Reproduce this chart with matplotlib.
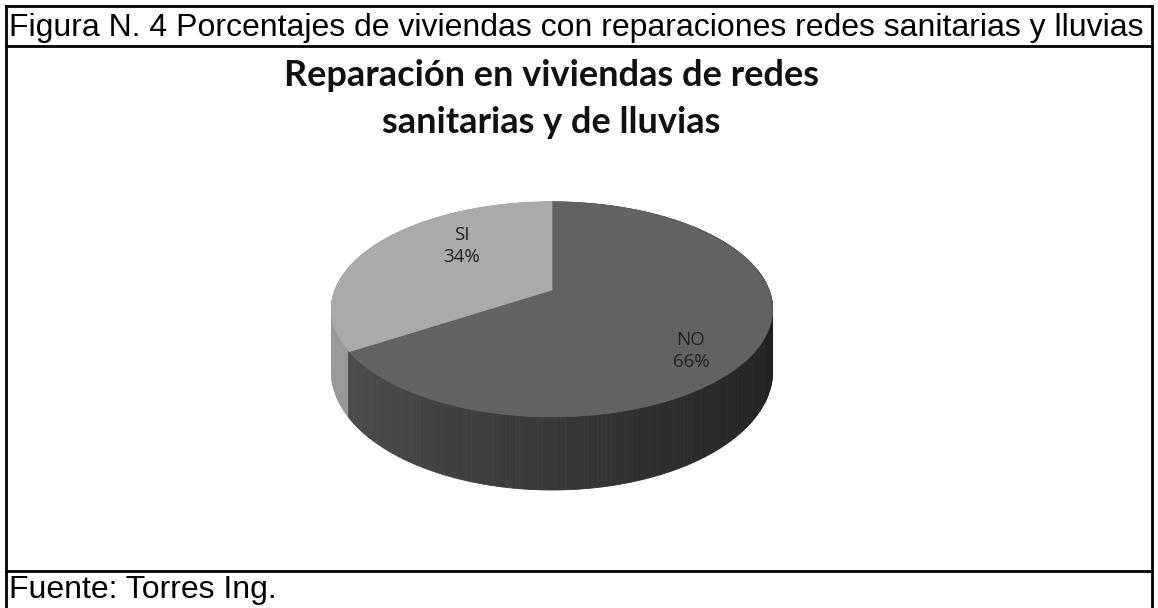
import numpy as np
import matplotlib
matplotlib.use("Agg")
import matplotlib.pyplot as plt

# Data
categories = ["NO", "SI"]
percents = [66, 34]
caption = "Figura N. 4 Porcentajes de viviendas con reparaciones redes sanitarias y lluvias"
title_lines = ["Reparación en viviendas de redes", "sanitarias y de lluvias"]
source = "Fuente: Torres Ing."

top_colors = {"NO": "#626262", "SI": "#aaaaaa"}
label_pos = {"NO": (691, 351), "SI": (462, 246)}

W, H = 1158, 608
fig = plt.figure(figsize=(W / 100, H / 100), dpi=100)
ax = fig.add_axes([0, 0, 1, 1])
ax.set_xlim(0, W)
ax.set_ylim(H, 0)
ax.axis("off")

# table frame
lw = 2.0
ax.plot([6, 6], [6, H], color="black", lw=lw)
ax.plot([1152, 1152], [6, H], color="black", lw=lw)
ax.plot([6, 1152], [6, 6], color="black", lw=lw)
ax.plot([6, 1152], [46, 46], color="black", lw=lw)
ax.plot([6, 1152], [571, 571], color="black", lw=lw)

ax.text(9, 36, caption, fontsize=23, family="Liberation Sans", va="baseline", ha="left")
ax.text(9, 598, source, fontsize=23, family="Liberation Sans", va="baseline", ha="left")
for line, base in zip(title_lines, [86, 133]):
    ax.text(551, base, line, fontsize=26, family="Lato", fontweight="bold",
            ha="center", va="baseline", color="#111111")

# 3D pie with a little perspective
cx, cy, a, b, p, h = 552, 290, 217, 104, 0.18, 60


def proj(t, down=0.0):
    u, v = np.cos(t), np.sin(t)
    w = 1 + p * v
    return cx + a * u / w, cy - b * v / w + down * h / w


# slice angles (SI starts at 12 o'clock going counter-clockwise)
start = np.pi / 2
a_si = 2 * np.pi * percents[1] / 100
spans = {"SI": (start, start + a_si), "NO": (start + a_si, start + 2 * np.pi)}


def slice_of(t):
    t = t % (2 * np.pi)
    s0, s1 = spans["SI"]
    return "SI" if s0 <= t < s1 else "NO"


# side walls, drawn back to front
n = 360
edges = np.linspace(0, 2 * np.pi, n + 1)
strips = []
for t0, t1 in zip(edges[:-1], edges[1:]):
    mid = (t0 + t1) / 2
    strips.append((np.sin(mid), t0, t1, mid))
strips.sort(key=lambda s: -s[0])
for _, t0, t1, mid in strips:
    u = np.cos(mid)
    if slice_of(mid) == "SI":
        g = 0.60 - 0.04 * (u + 1) / 2
    else:
        g = 0.31 - 0.18 * (u + 1) / 2
    ts = np.linspace(t0, t1, 3)
    x1, y1 = proj(ts)
    x2, y2 = proj(ts[::-1], 1.0)
    ax.fill(np.r_[x1, x2], np.r_[y1, y2], color=(g, g, g), ec=(g, g, g), lw=0.6)

# top wedges
for cat in categories:
    t0, t1 = spans[cat]
    ts = np.linspace(t0, t1, 240)
    x, y = proj(ts)
    ax.fill(np.r_[cx, x], np.r_[cy, y], color=top_colors[cat],
            ec=top_colors[cat], lw=0.5)

# slice labels
for cat, val in zip(categories, percents):
    lx, ly = label_pos[cat]
    ax.text(lx, ly, f"{cat}\n{val}%", fontsize=13.5, family="Open Sans",
            ha="center", va="center", color="#222222", linespacing=1.3)

fig.savefig("out.png", dpi=100)
